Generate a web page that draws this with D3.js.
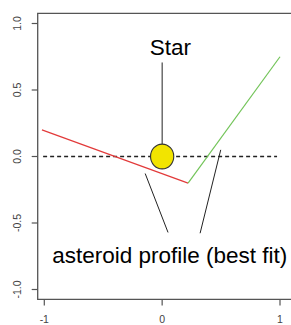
<!DOCTYPE html>
<html><head><meta charset="utf-8">
<script src="https://cdn.jsdelivr.net/npm/d3@7"></script>
<style>body{margin:0;background:#fff}svg{display:block}</style>
</head><body><svg id="c" width="291" height="325"></svg>
<script>
const xTicks = [-1, 0, 1];
const xTickLabels = ["-1", "0", "1"];
const yTicks = [-1, -0.5, 0, 0.5, 1];
const yTickLabels = ["-1.0", "-0.5", "0.0", "0.5", "1.0"];
const redX = [-1.02, 0.22];
const redY = [0.2, -0.2];
const greenX = [0.22, 1.0];
const greenY = [-0.2, 0.75];
const baseX = [-1.01, 0.975];
const baseY = [0, 0];
const starPos = [0, 0];
const starLineY = [0.707, 0.094];
const pointerA = [[-0.144, -0.128], [0.05, -0.571]];
const pointerB = [[0.497, 0.05], [0.322, -0.577]];
const labels = [
  {text: "Star", x: 0.07, y: 0.76},
  {text: "asteroid profile (best fit)", x: 0.064, y: -0.797}
];

const svg = d3.select("#c");
const x = d3.scaleLinear().domain([-1, 1]).range([44.3, 280]);
const y = d3.scaleLinear().domain([-1, 1]).range([289.5, 23.5]);
const font = "'Liberation Sans', Arial, sans-serif";

// box
svg.append("path")
  .attr("d", `M300,13.3 H37.7 V299.3 H300`)
  .attr("fill", "none").attr("stroke", "#555").attr("stroke-width", 1.3);

// y axis ticks
const ya = svg.append("g");
yTicks.forEach((t, i) => {
  ya.append("line").attr("x1", 31.7).attr("x2", 37.7).attr("y1", y(t)).attr("y2", y(t))
    .attr("stroke", "#555").attr("stroke-width", 1.2);
  ya.append("text").attr("transform", `translate(20.5,${y(t)}) rotate(-90)`)
    .attr("text-anchor", "middle").attr("font-family", font).attr("font-size", 10.5)
    .attr("fill", "#444").text(yTickLabels[i]);
});
// x axis ticks
const xa = svg.append("g");
xTicks.forEach((t, i) => {
  xa.append("line").attr("x1", x(t)).attr("x2", x(t)).attr("y1", 299.3).attr("y2", 305.5)
    .attr("stroke", "#555").attr("stroke-width", 1.2);
  xa.append("text").attr("x", x(t)).attr("y", 323)
    .attr("text-anchor", "middle").attr("font-family", font).attr("font-size", 10.5)
    .attr("fill", "#444").text(xTickLabels[i]);
});

const line = d3.line().x(d => x(d[0])).y(d => y(d[1]));
const zip = (a, b) => a.map((v, i) => [v, b[i]]);

// dashed baseline
svg.append("path").attr("d", line(zip(baseX, baseY)))
  .attr("fill", "none").attr("stroke", "#222").attr("stroke-width", 1.3)
  .attr("stroke-dasharray", "4,3");

// profile
svg.append("path").attr("d", line(zip(redX, redY)))
  .attr("fill", "none").attr("stroke", "#e23a3a").attr("stroke-width", 1.2);
svg.append("path").attr("d", line(zip(greenX, greenY)))
  .attr("fill", "none").attr("stroke", "#72c458").attr("stroke-width", 1.2);

// star pointer
svg.append("path").attr("d", line([[starPos[0], starLineY[0]], [starPos[0], starLineY[1]]]))
  .attr("stroke", "#222").attr("stroke-width", 1);
// star
svg.append("ellipse").attr("cx", x(starPos[0])).attr("cy", y(starPos[1]))
  .attr("rx", 11.6).attr("ry", 12.4)
  .attr("fill", "#f2e400").attr("stroke", "#333").attr("stroke-width", 1.1);

// asteroid pointers
[pointerA, pointerB].forEach(p => {
  svg.append("path").attr("d", line(p)).attr("stroke", "#222").attr("stroke-width", 1);
});

labels.forEach(l => {
  svg.append("text").attr("x", x(l.x)).attr("y", y(l.y))
    .attr("text-anchor", "middle").attr("font-family", font).attr("font-size", 22.5)
    .attr("fill", "#000").text(l.text);
});
</script></body></html>
